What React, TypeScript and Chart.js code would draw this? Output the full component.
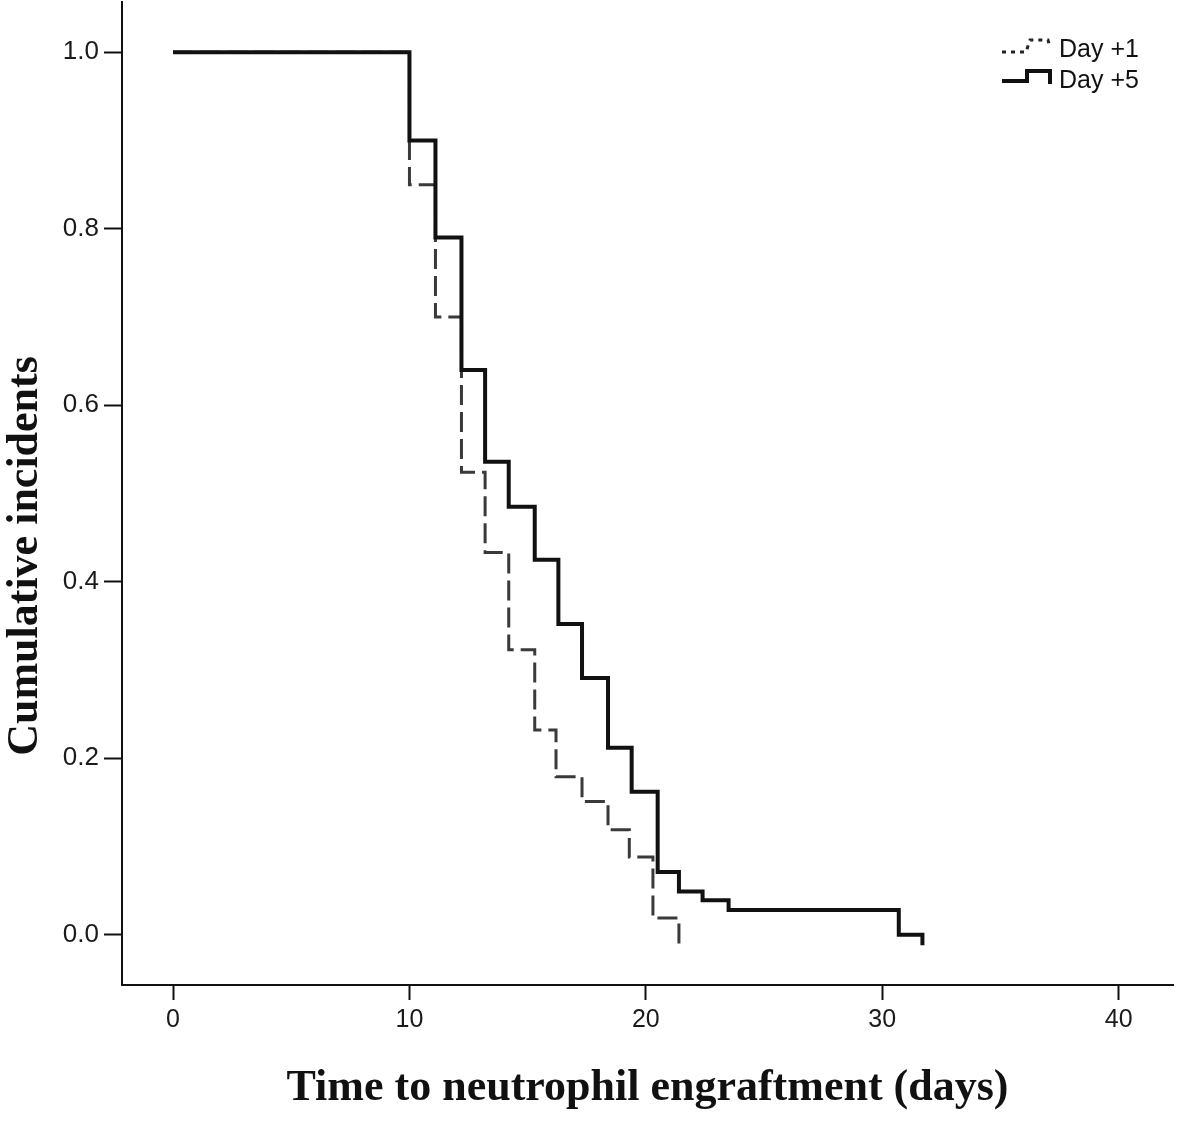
import { useEffect, useRef } from "react";
import { Chart, registerables } from "chart.js";

Chart.register(...registerables);

// Day +5 (solid) step curve
const DAY5_TIMES = [0, 10.0, 11.1, 12.2, 13.2, 14.2, 15.3, 16.3, 17.3, 18.4, 19.4, 20.5, 21.4, 22.4, 23.5, 30.7, 31.7];
const DAY5_VALUES = [1.0, 0.9, 0.79, 0.64, 0.536, 0.485, 0.425, 0.352, 0.291, 0.212, 0.162, 0.071, 0.049, 0.039, 0.028, 0.0, -0.012];

// Day +1 (dashed) step curve
const DAY1_TIMES = [0, 10.0, 11.1, 12.2, 13.2, 14.2, 15.3, 16.2, 17.3, 18.4, 19.3, 20.3, 21.4];
const DAY1_VALUES = [1.0, 0.85, 0.7, 0.524, 0.433, 0.323, 0.232, 0.179, 0.151, 0.119, 0.088, 0.019, -0.01];

const X_TICKS = [0, 10, 20, 30, 40];
const Y_TICKS = [0, 0.2, 0.4, 0.6, 0.8, 1.0];
const SERIES_LABELS = ["Day +1", "Day +5"];

const X_TITLE = "Time to neutrophil engraftment (days)";
const Y_TITLE = "Cumulative incidents";

const toPoints = (xs: number[], ys: number[]) => xs.map((x, i) => ({ x, y: ys[i] }));

// y-axis title and the little step-icon legend top right
const decorations = {
  id: "decorations",
  afterDraw(chart: Chart) {
    const ctx = chart.ctx;
    ctx.save();

    ctx.fillStyle = "#111";
    ctx.font = "bold 44px 'Liberation Serif'";
    ctx.textAlign = "center";
    ctx.textBaseline = "middle";
    ctx.translate(26, 556);
    ctx.rotate(-Math.PI / 2);
    ctx.fillText(Y_TITLE, 0, 0);
    ctx.setTransform(1, 0, 0, 1, 0, 0);

    // legend icons
    ctx.strokeStyle = "#222";
    ctx.lineWidth = 3;
    ctx.setLineDash([4, 5]);
    ctx.beginPath();
    ctx.moveTo(1002, 52);
    ctx.lineTo(1026, 52);
    ctx.lineTo(1030, 40);
    ctx.lineTo(1048, 40);
    ctx.lineTo(1050, 48);
    ctx.stroke();

    ctx.setLineDash([]);
    ctx.strokeStyle = "#111";
    ctx.lineWidth = 4;
    ctx.beginPath();
    ctx.moveTo(1002, 81);
    ctx.lineTo(1027, 81);
    ctx.lineTo(1027, 71);
    ctx.lineTo(1050, 71);
    ctx.lineTo(1050, 84);
    ctx.stroke();

    ctx.fillStyle = "#111";
    ctx.font = "25px 'Liberation Sans'";
    ctx.textAlign = "left";
    ctx.textBaseline = "middle";
    ctx.fillText(SERIES_LABELS[0], 1059, 50);
    ctx.fillText(SERIES_LABELS[1], 1059, 81);
    ctx.restore();
  },
};

export default function App() {
  const canvasRef = useRef<HTMLCanvasElement>(null);

  useEffect(() => {
    if (!canvasRef.current) return;
    const chart = new Chart(canvasRef.current, {
      type: "line",
      data: {
        datasets: [
          {
            label: SERIES_LABELS[1],
            data: toPoints(DAY5_TIMES, DAY5_VALUES),
            borderColor: "#111",
            borderWidth: 4,
            stepped: true,
            pointRadius: 0,
            borderJoinStyle: "miter",
          },
          {
            label: SERIES_LABELS[0],
            data: toPoints(DAY1_TIMES, DAY1_VALUES),
            borderColor: "#3a3a3a",
            borderWidth: 3,
            borderDash: [20, 7],
            stepped: true,
            pointRadius: 0,
            borderJoinStyle: "miter",
          },
        ],
      },
      options: {
        responsive: false,
        animation: false,
        layout: { padding: { top: 2, right: 8, left: 0, bottom: 0 } },
        plugins: { legend: { display: false }, tooltip: { enabled: false } },
        scales: {
          x: {
            type: "linear",
            min: -2.16,
            max: 42.3,
            afterFit: (s: any) => {
              s.height = 137;
              s.paddingLeft = 0;
              s.paddingRight = 0;
            },
            afterBuildTicks: (s: any) => {
              s.ticks = X_TICKS.map((value) => ({ value }));
            },
            ticks: {
              color: "#1a1a1a",
              font: { family: "Liberation Sans", size: 25 },
              padding: 5,
              maxRotation: 0,
              callback: (v: number | string) => String(v),
            },
            grid: { drawOnChartArea: false, tickLength: 15, tickWidth: 2, tickColor: "#111" },
            border: { color: "#111", width: 2 },
            title: {
              display: true,
              text: X_TITLE,
              color: "#111",
              font: { family: "Liberation Serif", size: 44, weight: "bold", lineHeight: 1 },
              padding: { top: 0, bottom: 11 },
            },
          },
          y: {
            type: "linear",
            min: -0.057,
            max: 1.057,
            afterFit: (s: any) => {
              s.width = 122;
              s.paddingTop = 0;
              s.paddingBottom = 0;
            },
            afterBuildTicks: (s: any) => {
              s.ticks = Y_TICKS.map((value) => ({ value }));
            },
            ticks: {
              color: "#1a1a1a",
              font: { family: "Liberation Sans", size: 26 },
              padding: 5,
              callback: (v: number | string) => Number(v).toFixed(1),
            },
            grid: { drawOnChartArea: false, tickLength: 18, tickWidth: 2, tickColor: "#111" },
            border: { color: "#111", width: 2 },
          },
        },
      },
      plugins: [decorations],
    });
    return () => chart.destroy();
  }, []);

  return (
    <div style={{ position: "absolute", left: 0, top: 0, width: 1181, height: 1122, background: "#fff" }}>
      <canvas
        ref={canvasRef}
        width={1181}
        height={1122}
        role="img"
        aria-label="Step chart of cumulative incidents versus time to neutrophil engraftment for Day +1 and Day +5"
      />
    </div>
  );
}
